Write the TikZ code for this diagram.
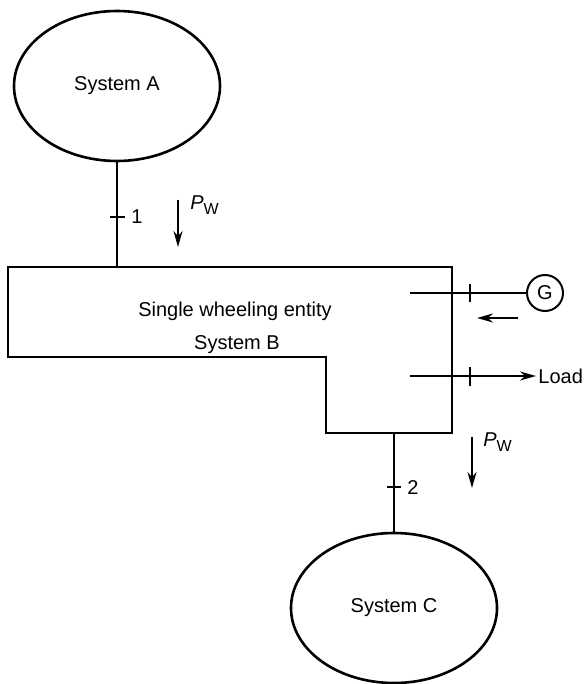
\documentclass[tikz,border=0pt]{standalone}
\usepackage{fontspec}
\setmainfont{Liberation Sans}
\usetikzlibrary{arrows.meta,shapes.geometric}

\newcommand{\pw}{\textit{P}\raisebox{-0.5ex}{\footnotesize W}}

\begin{document}
\begin{tikzpicture}[
  x=0.5pt, y=-0.5pt, font=\fontsize{10}{12}\selectfont,
  sys/.style={draw, ellipse, line width=1.3pt, minimum width=103pt, minimum height=75pt, inner sep=0pt},
  ln/.style={line width=1pt},
  arr/.style={-{Stealth[length=8pt,width=4.5pt]}, line width=1pt},
  lbl/.style={inner sep=1pt, anchor=west}
]
\useasboundingbox (0,0) rectangle (584,684);
\node[sys] (sysA) at (117,86) {System A};
\node[sys] (sysC) at (394,608) {System C};
\node[draw, circle, ln, minimum size=18pt, inner sep=0pt] (gen) at (545,293) {G};

% system B outline
\draw[line width=1.3pt] (8,267) -- (452,267) -- (452,433) -- (326,433) -- (326,357) -- (8,357) -- cycle;
\node (ent) at (235,311) {Single wheeling entity};
\node (sysB) at (237,345) {System B};

% tie line 1
\coordinate (top1) at (sysA.south |- 0,267);
\draw[ln] (sysA.south) -- (top1);
\draw[ln] (110,217) -- (125,217);
\node[lbl] (n1) at (129,217) {1};
\coordinate (pa1) at (178,200);
\coordinate (pb1) at (178,247);
\draw[arr] (pa1) -- (pb1);
\node[lbl] (pw1) at (188,205) {\pw};

% generator and load
\coordinate (g0) at (410,293);
\draw[ln] (g0) -- (gen.west);
\draw[ln] (470,284) -- (470,302);
\coordinate (ga) at (518,318);
\coordinate (gb) at (477,318);
\draw[arr] (ga) -- (gb);
\coordinate (l0) at (410,376);
\node[lbl] (load) at (536,376) {Load};
\draw[arr] (l0) -- (load.west);
\draw[ln] (470,367) -- (470,386);

% tie line 2
\coordinate (bot2) at (sysC.north |- 0,433);
\draw[ln] (bot2) -- (sysC.north);
\draw[ln] (387,487) -- (401,487);
\node[lbl] (n2) at (405,488) {2};
\coordinate (pa2) at (472,437);
\coordinate (pb2) at (472,488);
\draw[arr] (pa2) -- (pb2);
\node[lbl] (pw2) at (481,442) {\pw};
\end{tikzpicture}
\end{document}
